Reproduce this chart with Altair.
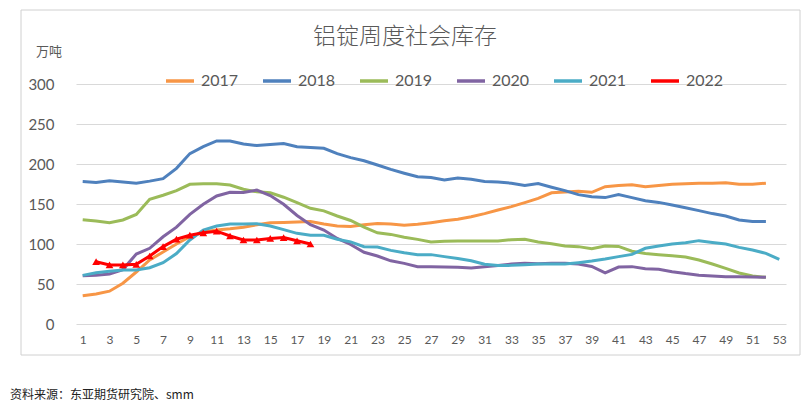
import altair as alt
import pandas as pd

title_text = "铝锭周度社会库存"
unit_text = "万吨"
source_text = "资料来源：东亚期货研究院、smm"

series_names = ["2017", "2018", "2019", "2020", "2021", "2022"]
series_colors = ["#F79646", "#4F81BD", "#9BBB59", "#8064A2", "#4BACC6", "#FF0000"]
start_weeks = [1, 1, 1, 1, 1, 2]

y2017 = [35.4, 37.5, 41, 51, 65, 80, 90, 100, 109, 115, 117.5, 119, 121, 124, 126.5, 127,
         127.5, 128, 125, 122.5, 122, 124, 125.5, 125, 123.5, 124.6, 126.7, 129, 131, 134,
         138, 142.5, 146.7, 151.7, 157, 164, 165, 166, 164.6, 171.7, 173, 174, 171.5, 173,
         174.6, 175.4, 175.8, 175.8, 176.7, 174.6, 174.6, 176]
y2018 = [178, 177, 179, 177.5, 176, 178.6, 181.7, 194.6, 213, 221.7, 228.8, 228.8, 225, 223,
         224.3, 225.6, 221.7, 220.6, 219.6, 213, 208, 204, 198.8, 193.3, 188.5, 184, 183, 180,
         182.5, 181, 178, 177.5, 176, 173, 175.5, 171, 166.7, 161.7, 159, 158, 161.7, 158,
         154, 152, 148.8, 145.4, 141.7, 138, 135, 130, 128, 128]
y2019 = [130.4, 128.8, 126.7, 130, 137, 156, 161, 166.7, 174.6, 175.4, 175.4, 173.8, 168.4,
         165.2, 164, 158.5, 151.7, 144.6, 141.4, 135, 129.4, 121, 114, 112, 108.5, 105.8,
         102.5, 103.3, 103.8, 103.8, 103.8, 103.8, 105.4, 106, 102.5, 100.4, 97.5, 96.7, 94,
         97.5, 97, 91, 88, 86.7, 85.4, 83.8, 80, 75, 69.6, 63.8, 60, 58.3]
y2020 = [60.4, 61, 62.5, 68, 87.5, 94.6, 109, 121, 137, 149.6, 160, 164.6, 164.3, 167.5,
         160.5, 149.6, 135.7, 124.2, 117.5, 107, 99.4, 89.6, 85, 79, 75.8, 71.7, 71.7, 71.25,
         70.8, 70, 71.7, 73, 75, 75.8, 75.4, 75.8, 75.8, 75, 72, 64, 71.25, 71.7, 69, 68.3,
         65.4, 63, 61, 60, 59, 59, 58.75, 58.3]
y2021 = [60.8, 64, 66, 67.5, 67.5, 70.4, 76.7, 88, 105, 117.5, 122.5, 125, 125, 125.4, 122.5,
         118, 113.3, 111, 110.8, 106, 102.7, 96.7, 96.25, 92, 89, 86.7, 86.7, 84.2, 82, 79,
         74.6, 73, 73.3, 74.2, 75, 75, 75, 76.7, 78.75, 81.25, 84.2, 87, 94.6, 97.5, 100,
         101.7, 104.2, 102, 100, 95.8, 92.5, 88.3, 80.8]
y2022 = [77.9, 73.8, 73.8, 74.6, 85, 96.7, 106, 111, 114, 116, 110, 105, 105, 107, 108, 104,
         100]

y_ticks = [0, 50, 100, 150, 200, 250, 300]
x_ticks = list(range(1, 54, 2))

all_values = [y2017, y2018, y2019, y2020, y2021, y2022]
rows = []
for name, start, vals in zip(series_names, start_weeks, all_values):
    for i, v in enumerate(vals):
        rows.append({"series": name, "week": start + i, "value": v})
df = pd.DataFrame(rows)

num_font = "Lato"
cjk_font = "Noto Sans CJK SC"

x_enc = alt.X(
    "week:Q",
    scale=alt.Scale(domain=[0.5, 53.5], nice=False, zero=False),
    axis=alt.Axis(values=x_ticks, grid=False, ticks=False, domain=False, labelFontSize=12,
                  labelColor="#595959", labelPadding=10, labelFont=num_font, title=None,
                  labelFlush=False),
)
y_enc = alt.Y(
    "value:Q",
    scale=alt.Scale(domain=[0, 300], nice=False),
    axis=alt.Axis(values=y_ticks, grid=True, gridColor="#D9D9D9", gridWidth=1, ticks=False,
                  domain=False, labelFontSize=15, labelPadding=22, labelColor="#595959",
                  labelFont=num_font, title=None),
)
color_enc = alt.Color(
    "series:N",
    scale=alt.Scale(domain=series_names, range=series_colors),
    legend=alt.Legend(orient="none", direction="horizontal", legendX=88, legendY=-19,
                      title=None, symbolType="stroke", symbolStrokeWidth=3.5, symbolSize=784,
                      labelFontSize=16, labelColor="#595959", labelFont=num_font,
                      columnPadding=17, labelOffset=5),
)

base = alt.Chart(df)
lines = base.transform_filter(alt.datum.series != "2022").mark_line(strokeWidth=3).encode(
    x=x_enc, y=y_enc, color=color_enc)
red_line = base.transform_filter(alt.datum.series == "2022").mark_line(strokeWidth=3).encode(
    x=x_enc, y=y_enc, color=color_enc)
red_pts = base.transform_filter(alt.datum.series == "2022").mark_point(
    shape="triangle-up", filled=True, size=60, color="#FF0000", opacity=1).encode(x=x_enc, y=y_enc)

one = pd.DataFrame({"k": [0]})
border = alt.Chart(one).mark_rect(fill="white", fillOpacity=0, stroke="#D0D0D0",
                                  strokeOpacity=1, strokeWidth=1).encode(
    x=alt.value(-55), x2=alt.value(724), y=alt.value(-74), y2=alt.value(271))
title = alt.Chart(one).mark_text(text=title_text, font=cjk_font, fontSize=23, fontWeight=300,
                                 color="#595959", align="center", baseline="middle").encode(
    x=alt.value(329), y=alt.value(-47))
unit = alt.Chart(one).mark_text(text=unit_text, font=cjk_font, fontSize=13, color="#595959",
                                align="left", baseline="middle").encode(
    x=alt.value(-40), y=alt.value(-32))
source = alt.Chart(one).mark_text(text=source_text, font=cjk_font, fontSize=12, color="#222222",
                                  align="left", baseline="middle").encode(
    x=alt.value(-66), y=alt.value(311))

chart = alt.layer(border, lines, red_line, red_pts, title, unit, source).properties(
    width=710, height=240,
    padding={"left": 68, "top": 76, "right": 17, "bottom": 79},
    autosize=alt.AutoSizeParams(type="none"),
    background="white",
).configure_view(stroke=None)

chart.save("out.html", embed_options={"renderer": "svg", "actions": False})
